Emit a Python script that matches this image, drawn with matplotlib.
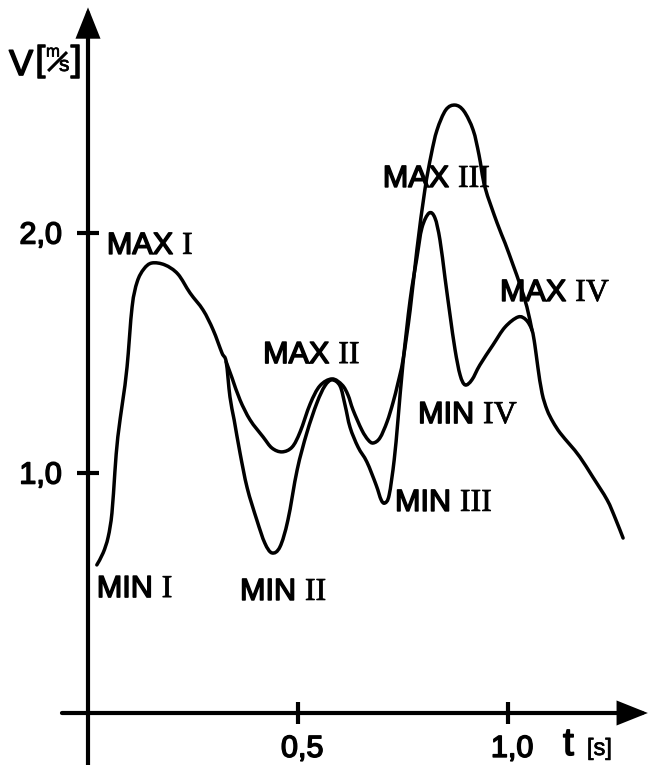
import matplotlib
matplotlib.use("Agg")
import matplotlib.pyplot as plt
import matplotlib.patheffects as pe
from matplotlib.path import Path
from matplotlib.patches import PathPatch

# Velocity curve with deep minima (traced from MIN I to the tail)
t_deep = [0.021, 0.036, 0.048, 0.057, 0.064, 0.071, 0.083, 0.093, 0.105, 0.117, 0.133,
          0.152, 0.183, 0.214, 0.243, 0.274, 0.298, 0.319, 0.329, 0.338, 0.348,
          0.362, 0.379, 0.402, 0.421, 0.438, 0.457, 0.476, 0.498, 0.521, 0.545,
          0.564, 0.581, 0.600, 0.612, 0.624, 0.643, 0.664, 0.686, 0.698, 0.707,
          0.717, 0.729, 0.738, 0.750, 0.767, 0.783, 0.795, 0.812, 0.826, 0.838,
          0.850, 0.862, 0.874, 0.886, 0.898, 0.914, 0.933, 0.964, 0.993, 1.024,
          1.043, 1.057, 1.064, 1.071, 1.081, 1.093, 1.107, 1.124, 1.148, 1.171,
          1.202, 1.236, 1.255, 1.274]
v_deep = [0.617, 0.667, 0.733, 0.833, 1.004, 1.150, 1.304, 1.442, 1.692, 1.796, 1.850,
          1.875, 1.867, 1.829, 1.750, 1.679, 1.596, 1.500, 1.463, 1.317, 1.221,
          1.083, 0.938, 0.804, 0.708, 0.667, 0.692, 0.804, 1.013, 1.167, 1.292,
          1.363, 1.388, 1.363, 1.283, 1.190, 1.108, 1.046, 0.950, 0.888, 0.875,
          0.908, 1.054, 1.221, 1.458, 1.721, 1.896, 2.021, 2.083, 2.063, 1.971,
          1.813, 1.658, 1.513, 1.408, 1.367, 1.388, 1.450, 1.533, 1.608, 1.650,
          1.638, 1.596, 1.533, 1.442, 1.333, 1.263, 1.213, 1.167, 1.117, 1.067,
          0.983, 0.888, 0.813, 0.729]

# Velocity curve with shallow minima (branches off after MAX I, rejoins after MAX IV)
t_shallow = [0.329, 0.343, 0.362, 0.386, 0.417, 0.438, 0.462, 0.486, 0.505, 0.529,
             0.552, 0.581, 0.605, 0.619, 0.631, 0.652, 0.667, 0.679, 0.695, 0.712,
             0.726, 0.738, 0.750, 0.767, 0.783, 0.802, 0.817, 0.831, 0.852, 0.874,
             0.895, 0.917, 0.931, 0.945, 0.974, 0.993, 1.012, 1.029, 1.045, 1.057]
v_shallow = [1.463, 1.396, 1.304, 1.221, 1.150, 1.104, 1.088, 1.108, 1.171, 1.288,
             1.363, 1.392, 1.367, 1.325, 1.263, 1.179, 1.138, 1.125, 1.146, 1.213,
             1.292, 1.375, 1.471, 1.679, 1.929, 2.179, 2.325, 2.429, 2.513, 2.533,
             2.508, 2.429, 2.325, 2.192, 2.042, 1.958, 1.867, 1.783, 1.692, 1.596]

# Axis ticks
x_ticks = [0.5, 1.0]
x_tick_labels = ["0,5", "1,0"]
y_ticks = [1.0, 2.0]
y_tick_labels = ["1,0", "2,0"]

# Extremum labels: (word, numeral, t, v) with t/v = left end of word at baseline
extrema = [
    ("MAX", "I", 0.045, 1.913),
    ("MAX", "II", 0.417, 1.458),
    ("MAX", "III", 0.702, 2.192),
    ("MAX", "IV", 0.981, 1.717),
    ("MIN", "I", 0.021, 0.483),
    ("MIN", "II", 0.362, 0.471),
    ("MIN", "III", 0.731, 0.842),
    ("MIN", "IV", 0.786, 1.208),
]

SANS = "Liberation Sans"
SERIF = "Liberation Serif"
plt.rcParams["font.family"] = SANS

heavy = [pe.withStroke(linewidth=1.1, foreground="black")]
heavy_serif = [pe.withStroke(linewidth=0.5, foreground="black")]


def smooth_curve(ts, vs):
    """Smooth path through every point (Catmull-Rom segments as cubic Beziers)."""
    pts = list(zip(ts, vs))
    n = len(pts)
    verts = [pts[0]]
    codes = [Path.MOVETO]
    for i in range(n - 1):
        p0 = pts[i - 1] if i > 0 else pts[i]
        p1 = pts[i]
        p2 = pts[i + 1]
        p3 = pts[i + 2] if i + 2 < n else pts[i + 1]
        c1 = (p1[0] + (p2[0] - p0[0]) / 6, p1[1] + (p2[1] - p0[1]) / 6)
        c2 = (p2[0] - (p3[0] - p1[0]) / 6, p2[1] - (p3[1] - p1[1]) / 6)
        verts += [c1, c2, p2]
        codes += [Path.CURVE4] * 3
    return Path(verts, codes)


fig = plt.figure(figsize=(6.48, 7.65), dpi=100)
ax = fig.add_axes([0, 0, 1, 1])
ax.set_xlim(-88 / 420, 560 / 420)
ax.set_ylim(-52 / 240, 713 / 240)
ax.axis("off")

# Axes with arrow heads
arrow = dict(arrowstyle="-|>,head_length=1.0,head_width=0.4", mutation_scale=17,
             lw=3, color="black", shrinkA=0, shrinkB=0, joinstyle="miter")
ax.annotate("", xy=(0, 2.94), xytext=(0, -0.25), arrowprops=arrow)
ax.annotate("", xy=(1.333, 0), xytext=(-0.062, 0), arrowprops=arrow)

# Tick marks
ax.plot([0] * len(y_ticks), y_ticks, ls="none", marker="_", ms=16, mew=3, color="black")
ax.plot(x_ticks, [0] * len(x_ticks), ls="none", marker="|", ms=16, mew=3, color="black")

for v, lab in zip(y_ticks, y_tick_labels):
    ax.text(-0.062, v - 0.044, lab, fontsize=22, ha="right", va="baseline",
            family=SANS, path_effects=heavy)
for t, lab in zip(x_ticks, x_tick_labels):
    ax.text(t + 0.01, -0.183, lab, fontsize=22, ha="center", va="baseline",
            family=SANS, path_effects=heavy)

# Curves
for ts, vs in ((t_deep, v_deep), (t_shallow, v_shallow)):
    ax.add_patch(PathPatch(smooth_curve(ts, vs), fill=False, edgecolor="black",
                           lw=2.5, joinstyle="round", capstyle="round"))

# Axis titles
ax.text(-0.188, 2.658, "V", fontsize=26, ha="left", va="baseline", family=SANS,
        path_effects=heavy)
ax.text(-0.126, 2.675, "[", fontsize=26, ha="left", va="baseline", family=SANS,
        path_effects=heavy)
ax.text(-0.100, 2.735, "m", fontsize=12, ha="left", va="baseline", family=SANS,
        path_effects=heavy_serif)
ax.plot([-0.095, -0.050], [2.675, 2.754], color="black", lw=2.2, solid_capstyle="butt")
ax.text(-0.069, 2.675, "s", fontsize=15, ha="left", va="baseline", family=SANS,
        path_effects=heavy_serif)
ax.text(-0.040, 2.675, "]", fontsize=26, ha="left", va="baseline", family=SANS,
        path_effects=heavy)

ax.text(1.131, -0.175, "t", fontsize=28, ha="left", va="baseline", family=SANS,
        path_effects=heavy)
ax.text(1.188, -0.175, "[s]", fontsize=17, ha="left", va="baseline", family=SANS,
        path_effects=heavy_serif)

# Extremum labels: sans-serif word followed by a serif Roman numeral
fig.canvas.draw()
renderer = fig.canvas.get_renderer()
for word, numeral, t, v in extrema:
    txt = ax.text(t, v, word, fontsize=22, ha="left", va="baseline", family=SANS,
                  path_effects=heavy)
    bb = txt.get_window_extent(renderer)
    x_end = ax.transData.inverted().transform((bb.x1 + 9, bb.y0))[0]
    ax.text(x_end, v, numeral, fontsize=23, ha="left", va="baseline", family=SERIF,
            path_effects=heavy_serif)

fig.savefig("out.png", dpi=100)
